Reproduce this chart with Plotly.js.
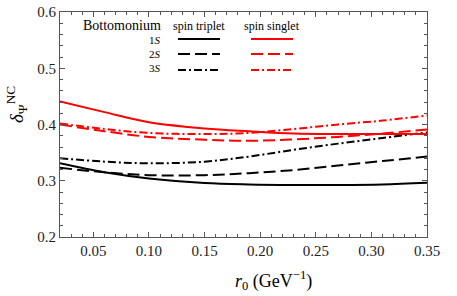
<!DOCTYPE html>
<html><head><meta charset="utf-8">
<script src="https://cdn.plot.ly/plotly-3.0.1.min.js"></script>
<style>html,body{margin:0;padding:0;background:#fff}#chart{width:457px;height:296px}</style>
</head><body><div id="chart"></div>
<script>
const r0 = [0.02, 0.06, 0.10, 0.15, 0.19, 0.23, 0.27, 0.31, 0.35];
const triplet1S = [0.331, 0.315, 0.304, 0.296, 0.2935, 0.2925, 0.2925, 0.2935, 0.2966];
const triplet2S = [0.323, 0.315, 0.310, 0.310, 0.3135, 0.319, 0.327, 0.335, 0.343];
const triplet3S = [0.340, 0.334, 0.331, 0.334, 0.343, 0.355, 0.366, 0.376, 0.386];
const singlet1S = [0.441, 0.422, 0.404, 0.393, 0.388, 0.384, 0.383, 0.383, 0.383];
const singlet2S = [0.400, 0.388, 0.378, 0.373, 0.371, 0.3735, 0.378, 0.384, 0.391];
const singlet3S = [0.402, 0.392, 0.385, 0.383, 0.385, 0.392, 0.400, 0.407, 0.416];
const stateLabels = ['1<i>S</i>', '2<i>S</i>', '3<i>S</i>'];
const xTitle = '<i>r</i><sub>0</sub> (GeV<sup>−1</sup>)';
const yTitle = '<i>δ</i><sub>Ψ</sub><sup>NC</sup>';
const dashes = ['solid', '12px,5px', '8px,3px,2px,3px'];
const BLACK = '#000', RED = '#ff0000';
const FONT = 'Liberation Serif';

function tr(y, color, dash) {
  return {x: r0, y: y, type: 'scatter', mode: 'lines', showlegend: false, hoverinfo: 'skip',
    line: {color: color, width: 2, dash: dash, shape: 'spline', smoothing: 1}};
}
const data = [
  tr(triplet1S, BLACK, dashes[0]), tr(triplet2S, BLACK, dashes[1]), tr(triplet3S, BLACK, dashes[2]),
  tr(singlet1S, RED, dashes[0]), tr(singlet2S, RED, dashes[1]), tr(singlet3S, RED, dashes[2])
];

// legend and titles placed in paper coordinates
const W = 457 - 60 - 30, H = 296 - 12 - 59;
const px = v => (v - 60) / W, py = v => 1 - (v - 12) / H;
const annotations = [
  {text: 'Bottomonium', x: px(163), y: py(25), xanchor: 'right', yanchor: 'middle', font: {size: 14}},
  {text: 'spin triplet', x: px(199), y: py(26), xanchor: 'center', yanchor: 'middle', font: {size: 12}},
  {text: 'spin singlet', x: px(272), y: py(26), xanchor: 'center', yanchor: 'middle', font: {size: 12}},
  {text: xTitle, x: px(273), y: py(280), xanchor: 'center', yanchor: 'middle', font: {size: 18}},
  {text: yTitle, x: px(16), y: py(105), xanchor: 'center', yanchor: 'middle', textangle: -90, font: {size: 19}}
];
const shapes = [];
const rowY = [39, 54, 70];
const textY = [40, 54, 68];
stateLabels.forEach((s, i) => {
  annotations.push({text: s, x: px(163), y: py(textY[i]), xanchor: 'right', yanchor: 'middle', font: {size: 11}});
  shapes.push({type: 'line', xref: 'paper', yref: 'paper', x0: px(178), x1: px(220), y0: py(rowY[i]), y1: py(rowY[i]),
    line: {color: BLACK, width: 2, dash: dashes[i]}});
  shapes.push({type: 'line', xref: 'paper', yref: 'paper', x0: px(251), x1: px(293), y0: py(rowY[i]), y1: py(rowY[i]),
    line: {color: RED, width: 2, dash: dashes[i]}});
});
annotations.forEach(a => { a.xref = 'paper'; a.yref = 'paper'; a.showarrow = false; a.font.family = FONT; a.font.color = '#000'; });

const axisCommon = {
  showgrid: false, zeroline: false, showline: true, linecolor: '#555', linewidth: 1,
  mirror: 'ticks', ticks: 'inside', ticklen: 5, tickcolor: '#555', tickwidth: 1,
  tickfont: {family: FONT, size: 15, color: '#222'}
};
const layout = {
  width: 457, height: 296,
  margin: {l: 60, r: 30, t: 12, b: 59},
  paper_bgcolor: '#fff', plot_bgcolor: '#fff',
  font: {family: FONT},
  xaxis: Object.assign({}, axisCommon, {
    range: [0.02, 0.35], tick0: 0.05, dtick: 0.05, tickformat: '.2f',
    minor: {ticks: 'inside', ticklen: 3, dtick: 0.01, tick0: 0, tickcolor: '#555'}
  }),
  yaxis: Object.assign({}, axisCommon, {
    range: [0.2, 0.6], dtick: 0.1, tickformat: '.1f',
    minor: {ticks: 'inside', ticklen: 3, dtick: 0.02, tickcolor: '#555'}
  }),
  annotations: annotations, shapes: shapes
};
Plotly.newPlot('chart', data, layout, {displayModeBar: false, staticPlot: true});
</script></body></html>
